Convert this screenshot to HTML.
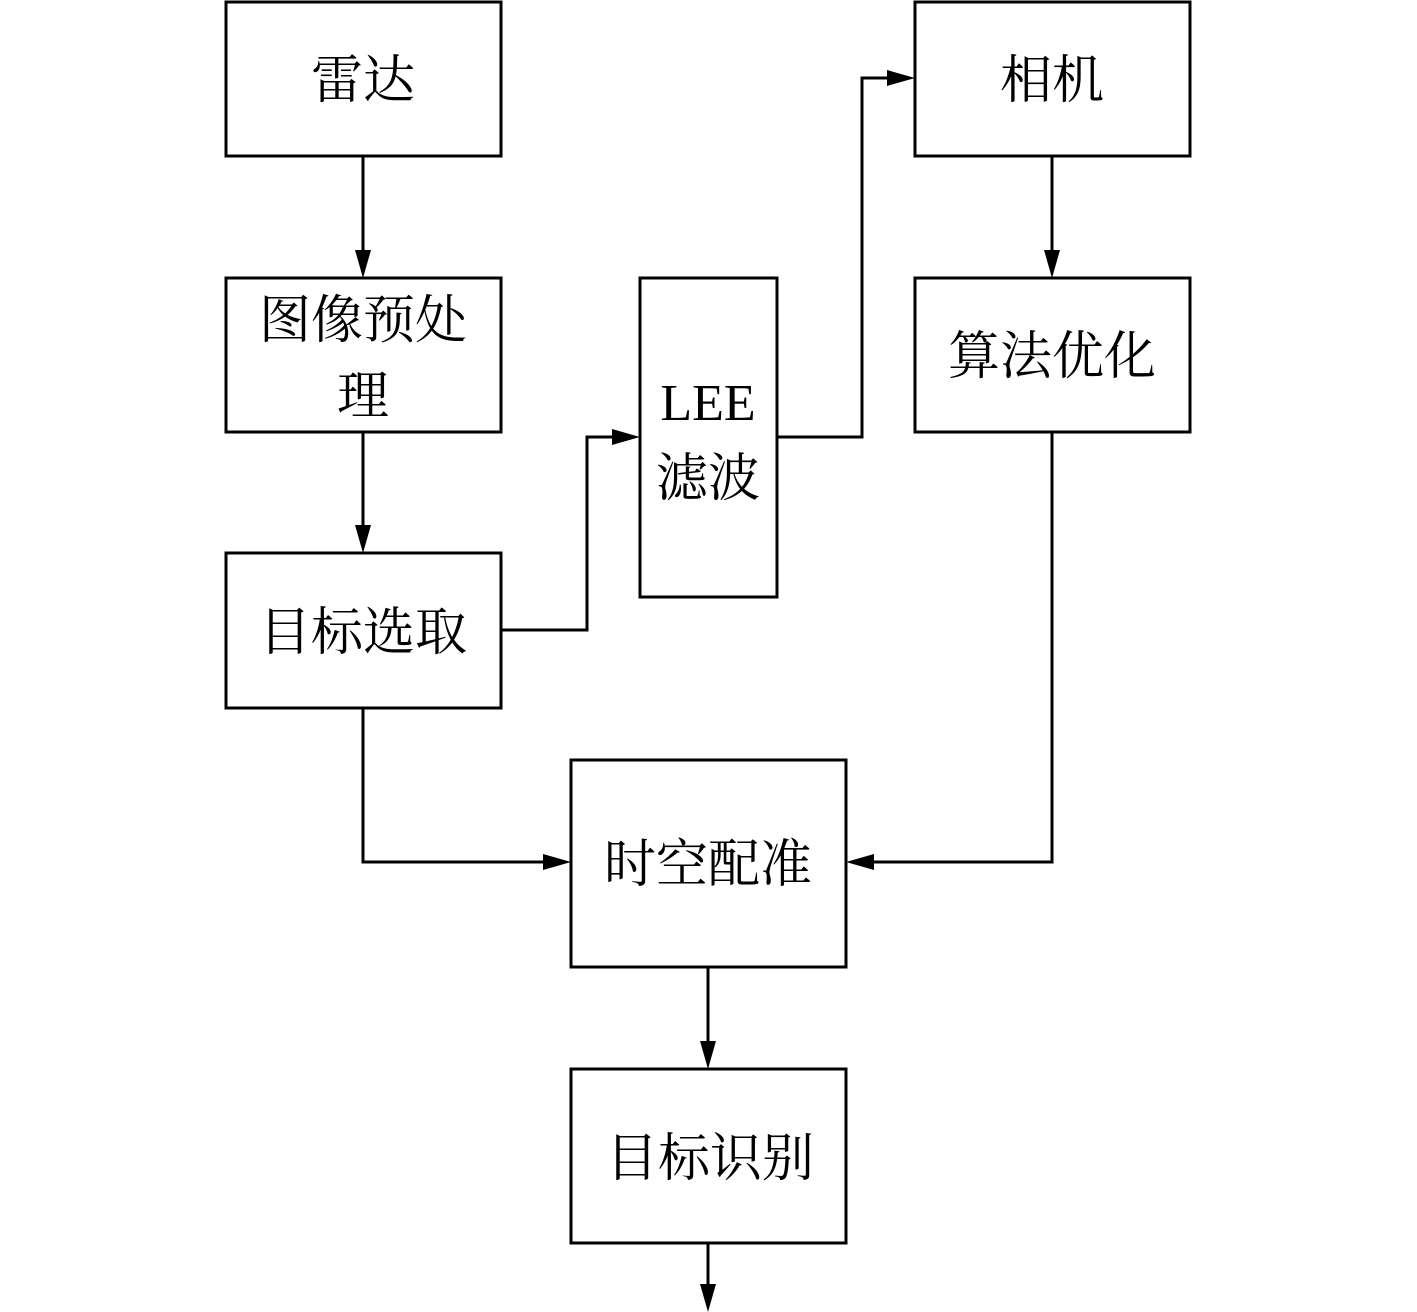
<!DOCTYPE html>
<html><head><meta charset="utf-8"><style>
html,body{margin:0;padding:0;background:#fff;}
svg{display:block;}
text{font-family:"Liberation Serif","Noto Serif CJK SC",serif;font-size:52px;fill:#000;}
</style></head><body>
<svg width="1417" height="1312" viewBox="0 0 1417 1312" xmlns="http://www.w3.org/2000/svg">
<defs>
<marker id="a" markerWidth="10" markerHeight="8" refX="10" refY="4" orient="auto" markerUnits="userSpaceOnUse" viewBox="0 0 10 8">
</marker>
</defs>
<g fill="none" stroke="#000" stroke-width="3">
<rect x="226" y="2" width="275" height="154"/>
<rect x="226" y="278" width="275" height="154"/>
<rect x="226" y="553" width="275" height="155"/>
<rect x="640" y="278" width="137" height="319"/>
<rect x="915" y="2" width="275" height="154"/>
<rect x="915" y="278" width="275" height="154"/>
<rect x="571" y="760" width="275" height="207"/>
<rect x="571" y="1069" width="275" height="174"/>
<polyline points="363,156 363,252"/>
<polyline points="363,432 363,527"/>
<polyline points="501,630 587,630 587,437 614,437"/>
<polyline points="777,437 862,437 862,78 889,78"/>
<polyline points="1052,156 1052,252"/>
<polyline points="1052,432 1052,862 872,862"/>
<polyline points="363,708 363,862 545,862"/>
<polyline points="708,967 708,1043"/>
<polyline points="708,1243 708,1286"/>
</g>
<g fill="#000">
<polygon points="355,250 371,250 363,278"/>
<polygon points="355,525 371,525 363,553"/>
<polygon points="612,429 612,445 640,437"/>
<polygon points="887,70 887,86 915,78"/>
<polygon points="1044,250 1060,250 1052,278"/>
<polygon points="874,854 874,870 846,862"/>
<polygon points="543,854 543,870 571,862"/>
<polygon points="700,1041 716,1041 708,1069"/>
<polygon points="700,1284 716,1284 708,1312"/>
</g>
<text x="363" y="98" text-anchor="middle">雷达</text>
<text x="363" y="338" text-anchor="middle">图像预处</text>
<text x="363" y="414" text-anchor="middle">理</text>
<text x="363" y="650" text-anchor="middle">目标选取</text>
<text x="708" y="420" text-anchor="middle">LEE</text>
<text x="708" y="496" text-anchor="middle">滤波</text>
<text x="1052" y="98" text-anchor="middle">相机</text>
<text x="1052" y="374" text-anchor="middle">算法优化</text>
<text x="708" y="882" text-anchor="middle">时空配准</text>
<text x="710" y="1176" text-anchor="middle">目标识别</text>
</svg>
</body></html>
